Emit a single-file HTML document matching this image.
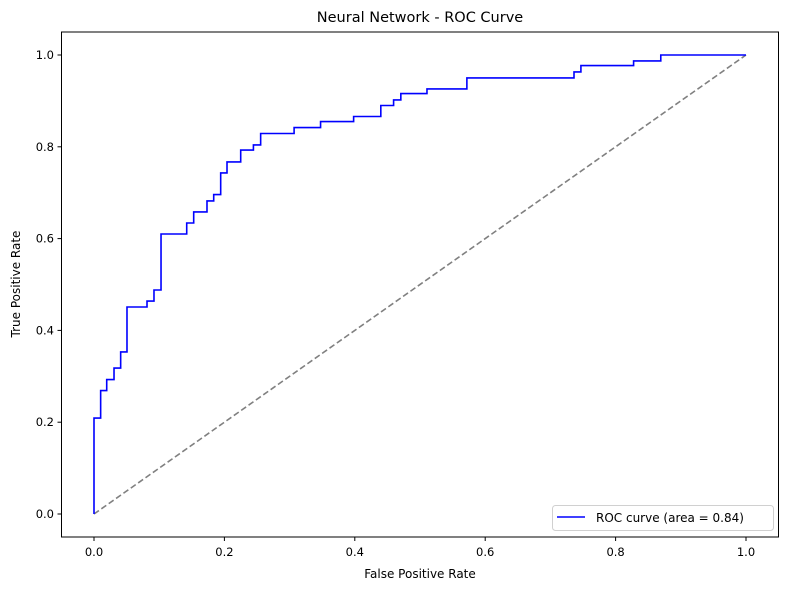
<!DOCTYPE html>
<html><head><meta charset="utf-8"><style>
body{margin:0;background:#fff}
svg{display:block;font-family:"DejaVu Sans","Liberation Sans",sans-serif}
</style></head><body>
<svg id="chart" width="790" height="590" viewBox="0 0 790 590">
<rect width="790" height="590" fill="#fff"/>
<text x="420" y="22" text-anchor="middle" font-size="14.5">Neural Network - ROC Curve</text>
<g id="grid"></g>
<text x="420" y="578" text-anchor="middle" font-size="12">False Positive Rate</text>
<text transform="translate(20,284) rotate(-90)" text-anchor="middle" font-size="12">True Positive Rate</text>
</svg>
<script>
const fpr=[0,0,0.0102,0.0195,0.0307,0.0409,0.0506,0.0813,0.0920,0.1028,0.1422,0.1529,0.1733,0.1836,0.1943,0.2040,0.2250,0.2445,0.2556,0.3069,0.3475,0.3982,0.4399,0.4595,0.4706,0.5107,0.5719,0.7362,0.7468,0.8276,0.8693,1.0];
const tpr=[0,0.209,0.269,0.293,0.318,0.353,0.451,0.464,0.488,0.610,0.634,0.658,0.682,0.696,0.743,0.767,0.793,0.804,0.829,0.842,0.855,0.866,0.890,0.902,0.916,0.926,0.950,0.963,0.977,0.987,1.0,1.0];
const xTicks=["0.0","0.2","0.4","0.6","0.8","1.0"];
const yTicks=["0.0","0.2","0.4","0.6","0.8","1.0"];
const legendLabel="ROC curve (area = 0.84)";
const NS="http://www.w3.org/2000/svg";
const svg=document.getElementById('chart');
const X=v=>94+v*652, Y=v=>514-v*459;
function mk(t,a,p){const e=document.createElementNS(NS,t);for(const k in a)e.setAttribute(k,a[k]);(p||svg).appendChild(e);return e;}
// diagonal
let d=mk('line',{x1:X(0),y1:Y(0),x2:X(1),y2:Y(1),stroke:'#808080','stroke-width':1.6,'stroke-dasharray':'6,3'});


// step curve: fpr/tpr points connected directly (vertical then horizontal)
let pts=[];
for(let i=0;i<fpr.length;i++){
  if(i>0) pts.push(X(fpr[i])+','+Y(tpr[i-1]));
  pts.push(X(fpr[i])+','+Y(tpr[i]));
}
let c=mk('polyline',{points:pts.join(' '),fill:'none',stroke:'#0000ff','stroke-width':1.6});


// axes frame
let f=mk('rect',{x:61.5,y:32,width:717,height:505,fill:'none',stroke:'#000','stroke-width':1});


xTicks.forEach((t,i)=>{const v=i*0.2;
  let l=mk('line',{x1:X(v),y1:537,x2:X(v),y2:541,stroke:'#000'});
  
  
  let tx=mk('text',{x:X(v),y:556,'text-anchor':'middle','font-size':11.5});tx.textContent=t;
  
  
});
yTicks.forEach((t,i)=>{const v=i*0.2;
  let l=mk('line',{x1:57.5,y1:Y(v),x2:61.5,y2:Y(v),stroke:'#000'});
  
  
  let tx=mk('text',{x:54,y:Y(v)+4,'text-anchor':'end','font-size':11.5});tx.textContent=t;
  
  
});
// legend
let lg=mk('g',{});


mk('rect',{x:552.5,y:505.5,width:221,height:25,rx:3,fill:'#fff',stroke:'#d0d0d0'},lg);
mk('line',{x1:557,y1:517,x2:585,y2:517,stroke:'#0000ff','stroke-width':1.6},lg);
let lt=mk('text',{x:596,y:522,'font-size':12},lg);lt.textContent=legendLabel;


</script>
</body></html>
